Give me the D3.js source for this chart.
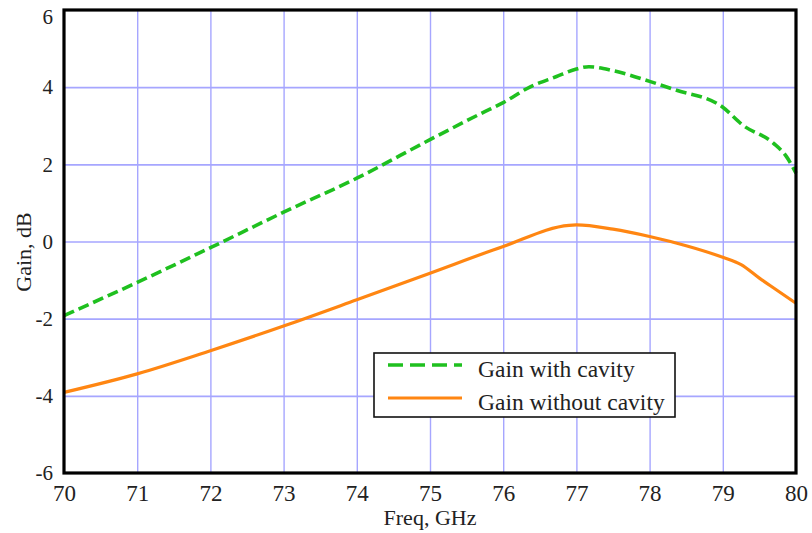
<!DOCTYPE html>
<html>
<head>
<meta charset="utf-8">
<script src="https://cdn.jsdelivr.net/npm/d3@7"></script>
<style>
  html, body { margin: 0; padding: 0; background: #fff; }
  svg { display: block; }
  text { font-family: "Liberation Serif", "Times New Roman", serif; fill: #222; }
</style>
</head>
<body>
<svg id="chart" width="812" height="533"></svg>
<script>
// ---- data ----
const freqWith = [70, 71, 72, 73, 74, 75, 75.7, 76, 76.37, 76.72, 77, 77.17, 77.5, 78, 78.35, 79, 79.27, 79.69, 79.87, 80];
const gainWith = [-1.92, -1.06, -0.16, 0.76, 1.64, 2.64, 3.32, 3.6, 4.01, 4.27, 4.47, 4.53, 4.43, 4.15, 3.93, 3.48, 3.02, 2.55, 2.2, 1.77];
const freqWithout = [70, 71, 72, 73, 74, 75, 76, 76.9, 77, 77.5, 78, 78.5, 79, 79.25, 79.5, 79.73, 80];
const gainWithout = [-3.91, -3.43, -2.83, -2.19, -1.51, -0.82, -0.13, 0.42, 0.43, 0.32, 0.13, -0.11, -0.41, -0.6, -0.95, -1.25, -1.6];
const xTicks = [70, 71, 72, 73, 74, 75, 76, 77, 78, 79, 80];
const yTicks = [-6, -4, -2, 0, 2, 4, 6];
const seriesNames = ["Gain with cavity", "Gain without cavity"];
const xTitle = "Freq, GHz";
const yTitle = "Gain, dB";

// ---- layout ----
const svg = d3.select("#chart");
const L = 64, R = 796, T = 10, B = 473;
const x = d3.scaleLinear().domain([70, 80]).range([L, R]);
const y = d3.scaleLinear().domain([-6, 6]).range([B, T]);
const fmt = d => String(d); // plain hyphen-minus as in the reference

const gridColor = "#a6a6ff";
// vertical grid
svg.append("g")
  .attr("transform", `translate(0,${B})`)
  .call(d3.axisBottom(x).tickValues(xTicks.slice(1, -1)).tickSize(-(B - T)).tickFormat(""))
  .call(g => g.select(".domain").remove())
  .call(g => g.selectAll("line").attr("stroke", gridColor).attr("stroke-width", 1.4));
// horizontal grid
svg.append("g")
  .attr("transform", `translate(${L},0)`)
  .call(d3.axisLeft(y).tickValues(yTicks.slice(1, -1)).tickSize(-(R - L)).tickFormat(""))
  .call(g => g.select(".domain").remove())
  .call(g => g.selectAll("line").attr("stroke", gridColor).attr("stroke-width", 1.6));

// lines
const line = d3.line().x(d => x(d[0])).y(d => y(d[1])).curve(d3.curveMonotoneX);
const dWith = freqWith.map((f, i) => [f, gainWith[i]]);
const dWithout = freqWithout.map((f, i) => [f, gainWithout[i]]);

svg.append("path").datum(dWithout)
  .attr("d", line).attr("fill", "none")
  .attr("stroke", "#ff8612").attr("stroke-width", 3.2).attr("stroke-linejoin", "round");
svg.append("path").datum(dWith)
  .attr("d", line).attr("fill", "none")
  .attr("stroke", "#1fc01f").attr("stroke-width", 3.6).attr("stroke-dasharray", "11,5");

// frame
svg.append("rect").attr("x", L).attr("y", T).attr("width", R - L).attr("height", B - T)
  .attr("fill", "none").attr("stroke", "#000").attr("stroke-width", 3.2);

// x tick labels
svg.append("g")
  .attr("transform", `translate(0,${B})`)
  .call(d3.axisBottom(x).tickValues(xTicks).tickSize(0).tickPadding(0).tickFormat(fmt))
  .call(g => g.select(".domain").remove())
  .call(g => g.selectAll("text")
    .attr("y", 28).attr("dy", null)
    .attr("font-size", 23).attr("fill", "#222"));

// y tick labels
svg.append("g")
  .attr("transform", `translate(${L},0)`)
  .call(d3.axisLeft(y).tickValues(yTicks).tickSize(0).tickPadding(11).tickFormat(fmt))
  .call(g => g.select(".domain").remove())
  .call(g => g.selectAll("text")
    .attr("font-size", 21).attr("fill", "#222")
    .attr("y", d => d === 6 ? 7 : 0));

// titles
svg.append("text").attr("x", 430).attr("y", 525).attr("text-anchor", "middle")
  .attr("font-size", 22).text(xTitle);
svg.append("text").attr("transform", "translate(31,252) rotate(-90)").attr("text-anchor", "middle")
  .attr("font-size", 22).text(yTitle);

// legend
const lg = svg.append("g");
lg.append("rect").attr("x", 374).attr("y", 353).attr("width", 301).attr("height", 64)
  .attr("fill", "#fff").attr("stroke", "#111").attr("stroke-width", 1.6);
const legendItems = [
  { name: seriesNames[0], color: "#1fc01f", dash: "15,7", y: 365, w: 3.6 },
  { name: seriesNames[1], color: "#ff8612", dash: null, y: 398, w: 3.2 }
];
legendItems.forEach(it => {
  lg.append("line").attr("x1", 388).attr("x2", 462).attr("y1", it.y).attr("y2", it.y)
    .attr("stroke", it.color).attr("stroke-width", it.w).attr("stroke-dasharray", it.dash);
  lg.append("text").attr("x", 478).attr("y", it.y + 12).attr("font-size", 23.5).text(it.name);
});
</script>
</body>
</html>
